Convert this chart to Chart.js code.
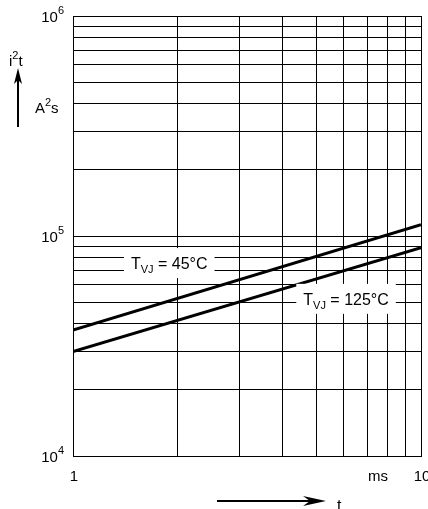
<!DOCTYPE html>
<html>
<head>
<meta charset="utf-8">
<script src="https://cdn.jsdelivr.net/npm/chart.js@4/dist/chart.umd.min.js"></script>
<style>
  html, body { margin: 0; padding: 0; background: #fff; }
  #wrap { width: 428px; height: 509px; }
</style>
</head>
<body>
<div id="wrap"><canvas id="i2tChart" width="428" height="509"></canvas></div>
<script>
// Werte (log-log, t in ms, i²t in A²s)
const timeMs = [1, 10];
const i2t45 = [37400, 112500];
const i2t125 = [29800, 88500];

// Gitterlinien / Achsteilung
const xGrid = [1, 2, 3, 4, 5, 6, 7, 8, 9, 10];
const yGrid = [1e4, 2e4, 3e4, 4e4, 5e4, 6e4, 7e4, 8e4, 9e4,
               1e5, 2e5, 3e5, 4e5, 5e5, 6e5, 7e5, 8e5, 9e5, 1e6];
const yTickLabels = [[1e6, '10', '6'], [1e5, '10', '5'], [1e4, '10', '4']];
const xTickLabels = [[1, '1'], [10, '10']];

// Kurvenbeschriftungen: [t, i2t, Text]
const curveLabels = [
  [1.89, 75300, '45°C'],
  [6.09, 51800, '125°C']
];

const FONT = '"Liberation Sans", Arial, sans-serif';

const textPlugin = {
  id: 'textPlugin',
  afterDatasetsDraw(chart) {
    const ctx = chart.ctx;
    const xs = chart.scales.x, ys = chart.scales.y;
    ctx.save();
    ctx.fillStyle = '#000';
    ctx.textBaseline = 'alphabetic';

    // Kurvenbeschriftungen mit weissem Hintergrund
    curveLabels.forEach(([t, v, txt]) => {
      const cx = xs.getPixelForValue(t);
      const cy = ys.getPixelForValue(v);
      ctx.font = '16px ' + FONT;
      const wT = ctx.measureText('T').width;
      const rest = ' = ' + txt;
      const wR = ctx.measureText(rest).width;
      ctx.font = '11px ' + FONT;
      const wS = ctx.measureText('VJ').width;
      const w = wT + wS + wR;
      const bw = w + 14;
      ctx.fillStyle = '#fff';
      ctx.fillRect(cx - bw / 2, cy - 15, bw, 30);
      ctx.fillStyle = '#000';
      let x0 = cx - w / 2;
      const base = cy + 6;
      ctx.textAlign = 'left';
      ctx.font = '16px ' + FONT;
      ctx.fillText('T', x0, base);
      ctx.font = '11px ' + FONT;
      ctx.fillText('VJ', x0 + wT, base + 4);
      ctx.font = '16px ' + FONT;
      ctx.fillText(rest, x0 + wT + wS, base);
    });
    ctx.restore();
  },
  afterDraw(chart) {
    const ctx = chart.ctx;
    const xs = chart.scales.x, ys = chart.scales.y;
    ctx.save();
    ctx.fillStyle = '#000';
    ctx.strokeStyle = '#000';
    ctx.textBaseline = 'alphabetic';

    // y-Achse: 10^n
    yTickLabels.forEach(([v, base, exp]) => {
      const y = ys.getPixelForValue(v);
      ctx.font = '11px ' + FONT;
      const we = ctx.measureText(exp).width;
      ctx.textAlign = 'right';
      ctx.fillText(exp, 64, y - 2);
      ctx.font = '15px ' + FONT;
      ctx.fillText(base, 64 - we, y + 6);
    });

    // x-Achse
    ctx.font = '15px ' + FONT;
    xTickLabels.forEach(([v, txt]) => {
      const x = xs.getPixelForValue(v);
      ctx.textAlign = 'center';
      ctx.fillText(txt, x + 1, 481);
    });
    ctx.fillText('ms', 378, 481);

    // Achsentitel y: i²t, Pfeil, A²s
    ctx.textAlign = 'left';
    ctx.font = '15px ' + FONT;
    ctx.fillText('i', 9, 66);
    let wx = 9 + ctx.measureText('i').width;
    ctx.font = '11px ' + FONT;
    ctx.fillText('2', wx, 59);
    wx += ctx.measureText('2').width;
    ctx.font = '15px ' + FONT;
    ctx.fillText('t', wx, 66);

    ctx.fillText('A', 35, 113);
    let ax = 35 + ctx.measureText('A').width;
    ctx.font = '11px ' + FONT;
    ctx.fillText('2', ax, 106);
    ax += ctx.measureText('2').width;
    ctx.font = '15px ' + FONT;
    ctx.fillText('s', ax, 113);

    ctx.lineWidth = 2;
    ctx.beginPath();
    ctx.moveTo(18, 127);
    ctx.lineTo(18, 76);
    ctx.stroke();
    ctx.beginPath();
    ctx.moveTo(18, 68);
    ctx.lineTo(14, 84);
    ctx.lineTo(18, 80);
    ctx.lineTo(22, 84);
    ctx.closePath();
    ctx.fill();

    // Achsentitel x: Pfeil, t
    ctx.beginPath();
    ctx.moveTo(217, 501);
    ctx.lineTo(318, 501);
    ctx.stroke();
    ctx.beginPath();
    ctx.moveTo(326, 501);
    ctx.lineTo(303, 496);
    ctx.lineTo(310, 501);
    ctx.lineTo(303, 506);
    ctx.closePath();
    ctx.fill();
    ctx.font = '16px ' + FONT;
    ctx.fillText('t', 337, 511);
    ctx.restore();
  }
};

const ctx = document.getElementById('i2tChart').getContext('2d');
const chart = new Chart(ctx, {
  type: 'line',
  data: {
    datasets: [
      {
        label: 'TVJ = 45°C',
        data: timeMs.map((t, i) => ({ x: t, y: i2t45[i] })),
        borderColor: '#000',
        borderWidth: 3,
        pointRadius: 0,
        fill: false
      },
      {
        label: 'TVJ = 125°C',
        data: timeMs.map((t, i) => ({ x: t, y: i2t125[i] })),
        borderColor: '#000',
        borderWidth: 3,
        pointRadius: 0,
        fill: false
      }
    ]
  },
  options: {
    responsive: false,
    animation: false,
    layout: { padding: { left: 73, right: 7, top: 16, bottom: 53 } },
    plugins: {
      legend: { display: false },
      tooltip: { enabled: false }
    },
    scales: {
      x: {
        type: 'logarithmic',
        min: 1,
        max: 10,
        afterBuildTicks: (axis) => { axis.ticks = xGrid.map(v => ({ value: v })); },
        ticks: { display: false },
        grid: { color: '#000', lineWidth: 1, drawTicks: false },
        border: { display: true, color: '#000', width: 1 }
      },
      y: {
        type: 'logarithmic',
        min: 1e4,
        max: 1e6,
        afterBuildTicks: (axis) => { axis.ticks = yGrid.map(v => ({ value: v })); },
        ticks: { display: false },
        grid: { color: '#000', lineWidth: 1, drawTicks: false },
        border: { display: true, color: '#000', width: 1 }
      }
    }
  },
  plugins: [textPlugin]
});
</script>
</body>
</html>
